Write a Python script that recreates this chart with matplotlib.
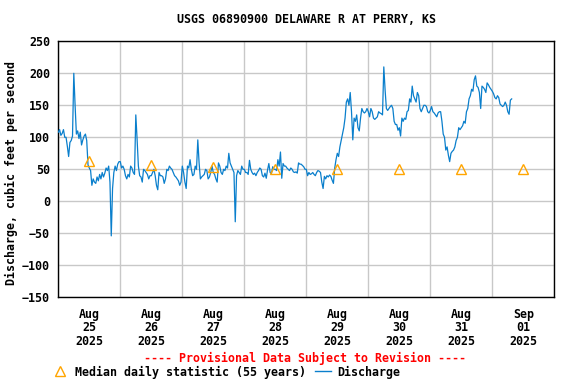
"""
USGS discharge chart, Delaware R at Perry KS, last week of Aug 2025.
"""
import numpy as np
import matplotlib
matplotlib.use("agg")
import matplotlib.pyplot as plt
from matplotlib.lines import Line2D

FONT = "DejaVu Sans Mono"
FS = 8.4
LINE_BLUE = "#0a7fcc"
MEDIAN_ORANGE = "#ffa500"

TITLE = "USGS 06890900 DELAWARE R AT PERRY, KS"
DAY_LABELS = ["Aug\n25\n2025", "Aug\n26\n2025", "Aug\n27\n2025", "Aug\n28\n2025",
              "Aug\n29\n2025", "Aug\n30\n2025", "Aug\n31\n2025", "Sep\n01\n2025"]

# half-hourly discharge, cfs, from Aug 25 00:00
aug25 = [108, 112, 103, 106, 112, 100, 100, 86, 70, 92, 95, 102,
         200, 150, 105, 110, 98, 108, 88, 96, 102, 105, 95, 57,
         52, 48, 25, 35, 30, 28, 38, 32, 42, 35, 45, 38,
         44, 52, 48, 55, 30, -54, 20, 45, 55, 48, 58, 62]
aug26 = [62, 52, 55, 50, 40, 35, 42, 38, 55, 52, 45, 42,
         135, 97, 55, 40, 38, 30, 50, 48, 45, 42, 35, 40,
         40, 45, 50, 40, 25, 18, 45, 40, 40, 38, 28, 35,
         50, 48, 55, 52, 50, 45, 40, 38, 35, 32, 25, 30]
aug27 = [55, 45, 30, 20, 55, 52, 65, 50, 40, 42, 55, 50,
         96, 60, 35, 38, 40, 42, 50, 48, 35, 38, 45, 55,
         45, 42, 35, 30, 60, 55, 45, 42, 50, 48, 55, 52,
         75, 60, 55, 50, 45, -32, 40, 48, 45, 42, 55, 50]
aug28 = [50, 45, 45, 42, 64, 50, 45, 42, 44, 40, 45, 48,
         52, 50, 40, 38, 44, 36, 49, 59, 45, 43, 54, 50,
         50, 48, 65, 55, 77, 36, 59, 55, 55, 52, 50, 48,
         52, 50, 46, 45, 46, 44, 60, 58, 58, 56, 54, 50]
aug29 = [50, 40, 45, 42, 43, 45, 42, 40, 45, 48, 47, 45,
         30, 20, 39, 35, 40, 38, 41, 39, 33, 28, 52, 65,
         75, 70, 85, 95, 105, 115, 130, 155, 160, 150, 170, 140,
         96, 130, 125, 135, 115, 110, 130, 145, 140, 138, 140, 145]
aug30 = [140, 132, 145, 140, 130, 128, 130, 132, 140, 138, 137, 135,
         210, 174, 145, 142, 145, 148, 150, 145, 125, 120, 120, 111,
         115, 102, 130, 125, 130, 128, 140, 142, 160, 155, 180, 165,
         160, 155, 170, 165, 145, 140, 145, 150, 150, 148, 140, 138]
aug31 = [142, 148, 140, 138, 135, 132, 138, 140, 140, 125, 105, 100,
         80, 85, 72, 62, 75, 78, 80, 85, 95, 100, 115, 112,
         115, 118, 125, 122, 140, 145, 160, 165, 175, 172, 190, 196,
         180, 178, 170, 145, 180, 178, 175, 170, 185, 182, 178, 175]
sep01 = [172, 168, 162, 160, 165, 162, 152, 150, 148, 150, 155, 150,
         140, 136, 158, 160]

# median daily statistic (55 years), plotted at noon of each day
median_vals = [63, 57, 53, 51, 51, 51, 51, 51]

discharge = np.array(aug25 + aug26 + aug27 + aug28 + aug29 + aug30 + aug31 + sep01)
t_days = np.arange(len(discharge)) * 0.5 / 24.0
median_t = np.arange(len(median_vals)) + 0.5


def main():
    fig = plt.figure(figsize=(5.76, 3.84), dpi=100)
    ax = fig.add_axes([58.3 / 576, 1 - 297.3 / 384,
                       496.0 / 576, 256.0 / 384])

    ax.plot(t_days, discharge, color=LINE_BLUE, lw=0.9, zorder=3)
    ax.plot(median_t, median_vals, ls="none", marker="^", ms=7.5,
            mfc="none", mec=MEDIAN_ORANGE, mew=1.0, zorder=4)

    ax.set_xlim(0, 8)
    ax.set_ylim(-150, 250)
    ax.set_yticks(np.arange(-150, 251, 50))
    ax.set_xticks(np.arange(0, 9, 1))
    ax.set_xticklabels([])
    ax.set_xticks(median_t, minor=True)
    ax.set_xticklabels(DAY_LABELS, minor=True, fontfamily=FONT,
                       fontsize=FS, fontweight="bold", linespacing=1.05)
    for lab in ax.get_yticklabels():
        lab.set_fontfamily(FONT)
        lab.set_fontsize(FS)
        lab.set_fontweight("bold")
    ax.tick_params(axis="both", which="both", length=0)
    ax.tick_params(axis="y", pad=6)
    ax.tick_params(axis="x", which="minor", pad=7.5)

    ax.grid(True, which="major", color="#c8c8c8", lw=1.0)
    ax.set_axisbelow(True)
    for sp in ax.spines.values():
        sp.set_linewidth(1.0)
        sp.set_color("black")

    ax.set_title(TITLE, fontfamily=FONT, fontsize=FS, fontweight="bold",
                 pad=13.5)
    ax.set_ylabel("Discharge, cubic feet per second", fontfamily=FONT,
                  fontsize=FS, fontweight="bold")
    # label anchor is the right edge of the rotated text
    ax.yaxis.set_label_coords((17.5 - 58.3) / 496.0, (297.3 - 173) / 256.0)

    fig.text(305 / 576, 1 - 358 / 384,
             "---- Provisional Data Subject to Revision ----",
             color="red", ha="center", va="center", fontfamily=FONT,
             fontsize=FS, fontweight="bold")

    handles = [
        Line2D([], [], ls="none", marker="^", ms=7.5, mfc="none",
               mec=MEDIAN_ORANGE, mew=1.0),
        Line2D([], [], color=LINE_BLUE, lw=1.0),
    ]
    fig.legend(handles, ["Median daily statistic (55 years)", "Discharge"],
               ncol=2, loc="center left",
               bbox_to_anchor=(52 / 576, 1 - 372 / 384), frameon=False,
               handlelength=1.45, handletextpad=0.5, columnspacing=0.75,
               borderpad=0, borderaxespad=0,
               prop={"family": FONT, "size": FS, "weight": "bold"})

    fig.savefig("out.png", dpi=100)
    plt.close(fig)


if __name__ == "__main__":
    main()
